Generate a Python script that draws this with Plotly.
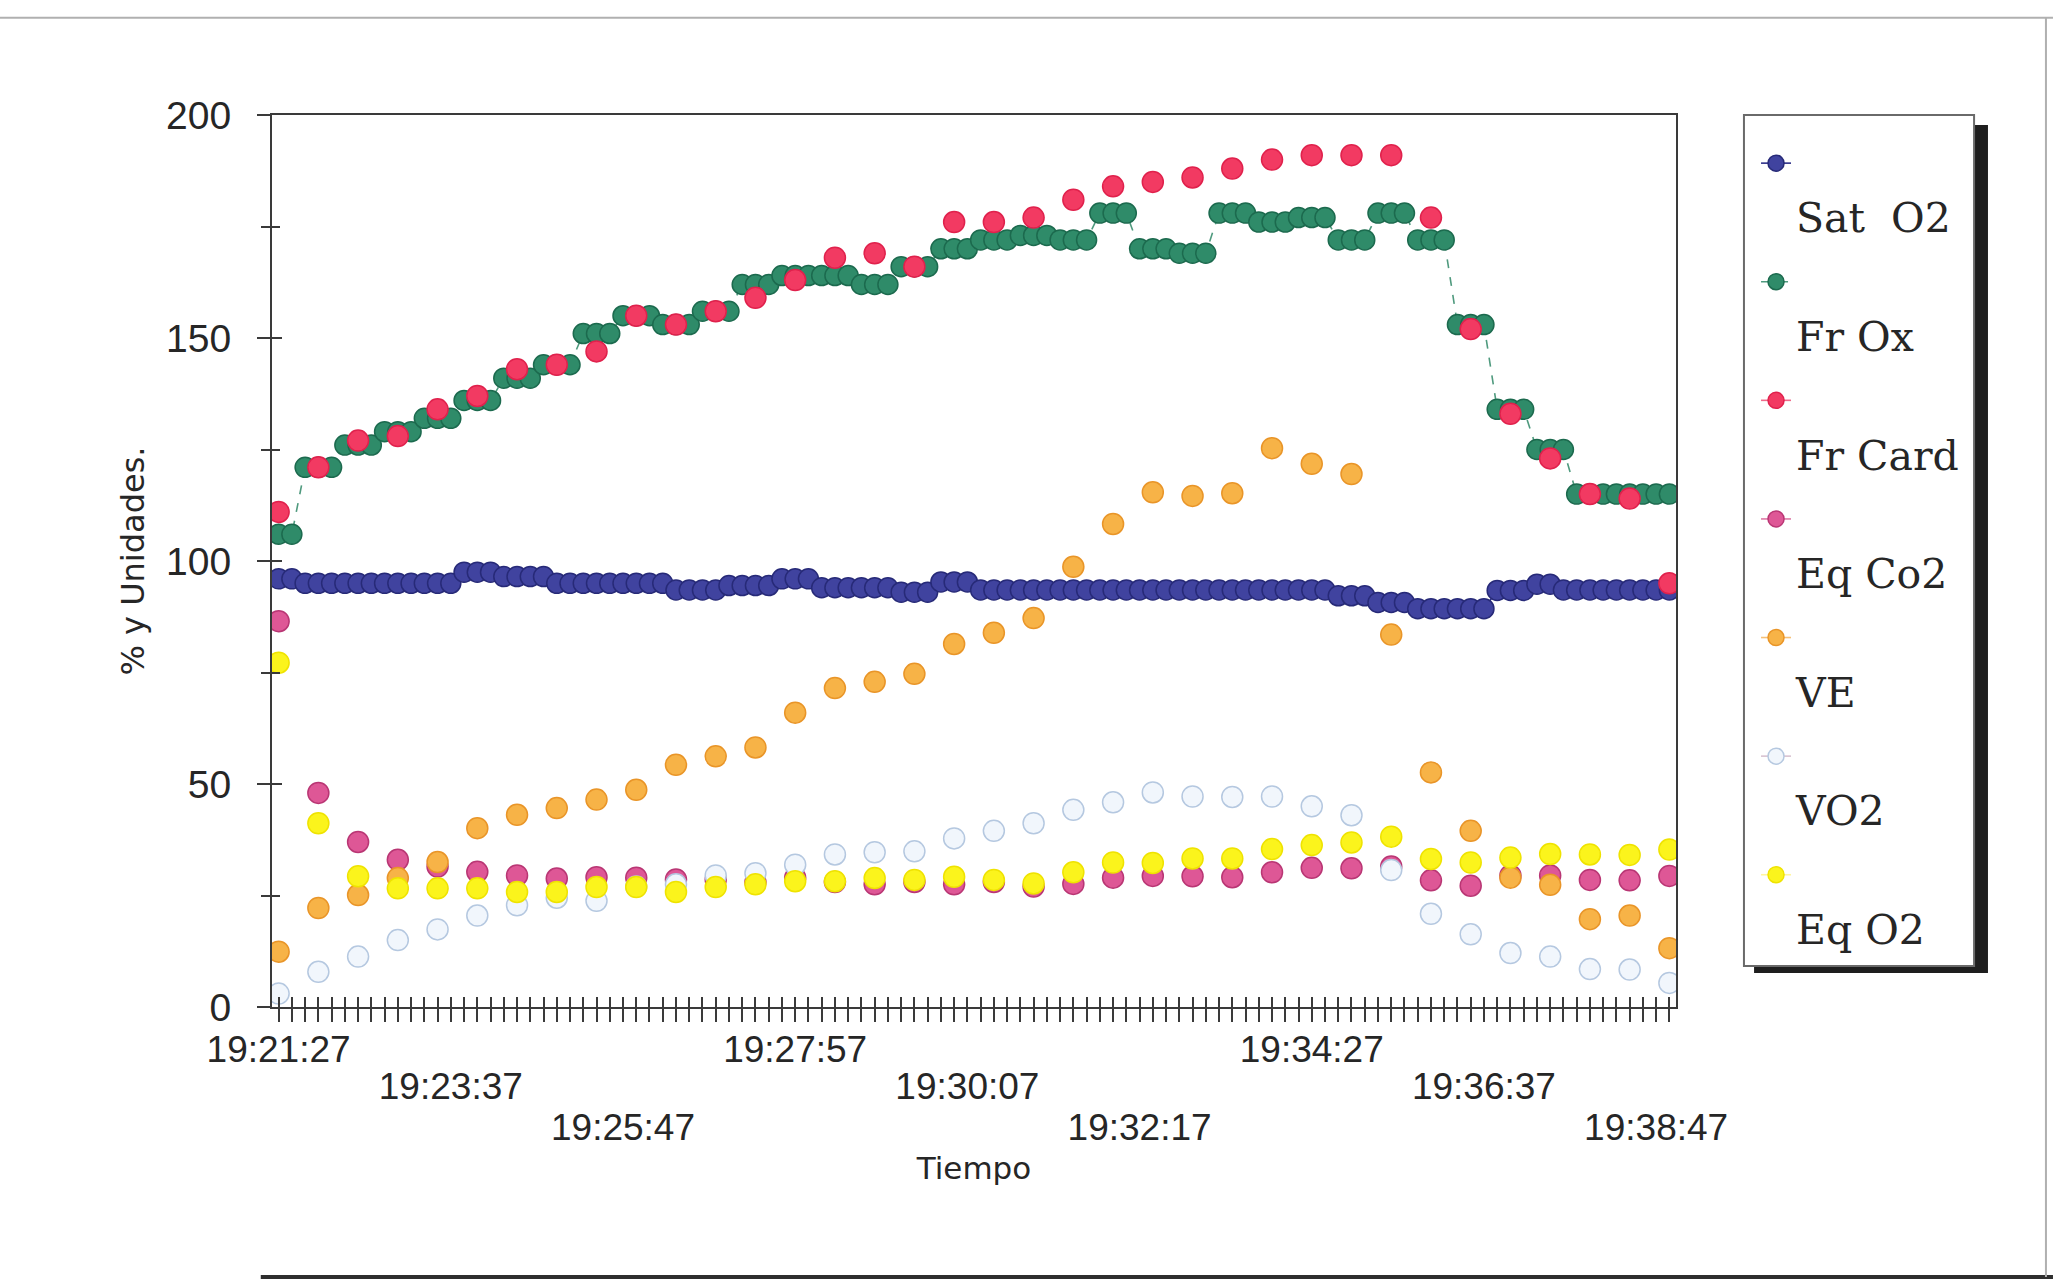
import plotly.graph_objects as go

# ---- time base (seconds after 19:21:27) ----
FAST_STEP = 10          # oximeter samples
SLOW_EVERY = 3          # gas analyser: one value every third oximeter sample (30 s)

tick_seconds = [0, 130, 260, 390, 520, 650, 780, 910, 1040]
tick_labels = ["19:21:27", "19:23:37", "19:25:47", "19:27:57", "19:30:07",
               "19:32:17", "19:34:27", "19:36:37", "19:38:47"]

# ---- oximeter series (every 10 s) ----
sat_o2 = [96, 96,
          95, 95, 95, 95, 95, 95, 95, 95, 95, 95, 95, 95,
          97.5, 97.5, 97.5,
          96.5, 96.5, 96.5, 96.5,
          95, 95, 95, 95, 95, 95, 95, 95, 95,
          93.5, 93.5, 93.5, 93.5,
          94.5, 94.5, 94.5, 94.5,
          96, 96, 96,
          94, 94, 94, 94, 94, 94,
          93, 93, 93,
          95.3, 95.3, 95.3,
          93.5, 93.5, 93.5, 93.5, 93.5, 93.5, 93.5, 93.5, 93.5,
          93.5, 93.5, 93.5, 93.5, 93.5, 93.5, 93.5, 93.5, 93.5,
          93.5, 93.5, 93.5, 93.5, 93.5, 93.5, 93.5, 93.5, 93.5,
          92.2, 92.2, 92.2,
          90.7, 90.7, 90.7,
          89.3, 89.3, 89.3, 89.3, 89.3, 89.3,
          93.4, 93.4, 93.4,
          94.8, 94.8,
          93.5, 93.5, 93.5, 93.5, 93.5, 93.5, 93.5, 93.5, 93.5]

fr_ox = [106, 106,
         121, 121, 121, 126, 126, 126, 129, 129, 129, 132, 132, 132,
         136, 136, 136, 141, 141, 141, 144, 144, 144, 151, 151, 151,
         155, 155, 155, 153, 153, 153, 156, 156, 156, 162, 162, 162,
         164, 164, 164, 164, 164, 164, 162, 162, 162, 166, 166, 166,
         170, 170, 170, 172, 172, 172, 173, 173, 173, 172, 172, 172,
         178, 178, 178, 170, 170, 170, 169, 169, 169, 178, 178, 178,
         176, 176, 176, 177, 177, 177, 172, 172, 172, 178, 178, 178,
         172, 172, 172, 153, 153, 153, 134, 134, 134, 125, 125, 125,
         115, 115, 115, 115, 115, 115,
         115, 115]

# ---- cardiac monitor / gas analyser series (every 30 s) ----
fr_card = [111, 121, 127, 128, 134, 137, 143, 144, 147, 155, 153, 156,
           159, 163, 168, 169, 166, 176, 176, 177, 181, 184, 185, 186,
           188, 190, 191, 191, 191, 177, 152, 133, 123, 115, 114, 95]
eq_co2 = [86.5, 48, 37, 33, 31.5, 30.3, 29.5, 28.8, 29.1, 29, 28.6, 28.6,
          28, 29, 28, 27.5, 28, 27.5, 28, 27, 27.6, 29, 29.4, 29.3,
          29.1, 30.2, 31.2, 31.1, 31.5, 28.4, 27.2, 29.5, 29.5, 28.5, 28.4, 29.4]
ve = [12.4, 22.2, 25.1, 28.9, 32.5, 40.1, 43.1, 44.6, 46.5, 48.7, 54.3, 56.2,
      58.2, 66, 71.5, 72.9, 74.7, 81.4, 83.9, 87.2, 98.7, 108.3, 115.4, 114.6,
      115.2, 125.3, 121.8, 119.5, 83.5, 52.6, 39.5, 29, 27.4, 19.7, 20.5, 13.2]
vo2 = [3, 7.9, 11.3, 15, 17.4, 20.5, 22.8, 24.5, 23.8, 27, 27.5, 29.5,
       30, 31.9, 34.2, 34.7, 34.9, 37.8, 39.5, 41.2, 44.2, 45.9, 48.1, 47.2,
       47.1, 47.2, 45, 43, 30.7, 20.9, 16.3, 12.1, 11.3, 8.5, 8.4, 5.4]
eq_o2 = [77.2, 41.2, 29.3, 26.6, 26.6, 26.6, 25.8, 25.8, 26.9, 26.9, 25.8, 26.9,
         27.5, 28.2, 28.2, 28.9, 28.5, 29.2, 28.5, 27.7, 30.2, 32.4, 32.3, 33.3,
         33.3, 35.4, 36.3, 36.9, 38.2, 33.2, 32.4, 33.5, 34.3, 34.2, 34.1, 35.3]

# shared 10-second category grid; slow series leave the in-between cells empty
x_grid = [i * FAST_STEP for i in range(len(sat_o2))]


def on_grid(values):
    return [values[i // SLOW_EVERY] if i % SLOW_EVERY == 0 else None
            for i in range(len(x_grid))]


AX = "#3a3a3a"
TXT = "#262626"
X_RANGE = [-5, 1055]

# The three time-label rows are three overlaid x axes (x, x2, x3) with the same
# range; the second y axis adds the inner half of the crossing tick marks.
series = [
    # name, values, fill, outline, line colour, size, dash, dense, xaxis, yaxis
    ("Sat\u00a0 O2", sat_o2, "#40439f", "#272a78", "#2d3088", 20, "solid", True, "x", "y"),
    ("Fr Ox", fr_ox, "#2f8b69", "#1c6a4e", "#4f9a7e", 20, "dash", True, "x", "y"),
    ("Fr Card", fr_card, "#f23a62", "#e0214c", "#f06a8a", 21, "solid", False, "x2", "y"),
    ("Eq Co2", eq_co2, "#de5796", "#b93674", "#dd7aa6", 21, "solid", False, "x3", "y2"),
    ("VE", ve, "#f7b347", "#e99528", "#f5c078", 21, "solid", False, "x3", "y2"),
    ("VO2", vo2, "#f1f6fc", "#b5c8e0", "#d8c2d0", 21, "solid", False, "x3", "y2"),
    ("Eq O2", eq_o2, "#fbf41c", "#efe300", "#fff6a0", 21, "solid", False, "x3", "y2"),
]

fig = go.Figure()
for name, vals, fill, outline, lcol, size, dash, dense, xa, ya in series:
    fig.add_trace(go.Scatter(
        x=x_grid,
        y=vals if dense else on_grid(vals),
        xaxis=xa, yaxis=ya,
        name="<br>" + name,
        legendgroup=name,
        mode="lines+markers",
        connectgaps=False,
        line=dict(color=lcol, width=1.6, dash=dash),
        marker=dict(symbol="circle", size=size, color=fill,
                    line=dict(color=outline, width=1.5)),
    ))

tick_font = dict(family="Liberation Sans", size=37, color=TXT)
minor_out = dict(tick0=0, dtick=FAST_STEP, ticks="outside", ticklen=13,
                 tickwidth=1.5, tickcolor=AX, showgrid=False)
minor_in = dict(tick0=0, dtick=FAST_STEP, ticks="inside", ticklen=10,
                tickwidth=1.5, tickcolor=AX, showgrid=False)

# page frame lines of the printed sheet and legend box with drop shadow
shapes = [
    dict(type="line", xref="paper", yref="paper", x0=-0.194, x1=1.2685,
         y0=1.109, y1=1.109, line=dict(color="#b0b0b0", width=2)),
    dict(type="line", xref="paper", yref="paper", x0=-0.008, x1=1.2685,
         y0=-0.3027, y1=-0.3027, line=dict(color="#2e2e2e", width=4)),
    dict(type="line", xref="paper", yref="paper", x0=1.2635, x1=1.2635,
         y0=-0.3027, y1=1.109, line=dict(color="#b0b0b0", width=2)),
    dict(type="rect", xref="paper", yref="paper", x0=1.0556, x1=1.2222,
         y0=0.0381, y1=0.9888, fillcolor="#1e1e1e", line=dict(width=0)),
    dict(type="rect", xref="paper", yref="paper", x0=1.0484, x1=1.2123,
         y0=0.046, y1=1.0, fillcolor="white", line=dict(color="#6a6a6a", width=2)),
]

fig.update_layout(
    width=2053, height=1287,
    margin=dict(l=272, r=377, t=115, b=280),
    paper_bgcolor="white", plot_bgcolor="white",
    shapes=shapes,
    showlegend=True,
    legend=dict(x=1.057, y=0.9832, xanchor="left", yanchor="top",
                bgcolor="rgba(0,0,0,0)", borderwidth=0, valign="top",
                tracegroupgap=9, itemsizing="trace",
                font=dict(family="DejaVu Serif", size=41, color=TXT)),
    xaxis=dict(range=X_RANGE, showgrid=False, zeroline=False,
               showline=True, linecolor=AX, linewidth=2, mirror=True,
               tickmode="array", tickvals=tick_seconds[0::3],
               ticktext=tick_labels[0::3], ticks="outside", ticklen=13,
               tickwidth=1.5, tickcolor=AX, minor=minor_out,
               tickfont=tick_font, ticklabelstandoff=-4),
    xaxis2=dict(overlaying="x", side="bottom", range=X_RANGE, showgrid=False,
                zeroline=False, showline=False, tickmode="array",
                tickvals=tick_seconds[1::3], ticktext=tick_labels[1::3],
                ticks="inside", ticklen=10, tickwidth=1.5, tickcolor=AX,
                minor=minor_in, tickfont=tick_font, ticklabelstandoff=54),
    xaxis3=dict(overlaying="x", side="bottom", range=X_RANGE, showgrid=False,
                zeroline=False, showline=False, tickmode="array",
                tickvals=tick_seconds[2::3], ticktext=tick_labels[2::3],
                ticks="", tickfont=tick_font, ticklabelstandoff=95,
                title=dict(text="Tiempo", standoff=10,
                           font=dict(family="DejaVu Sans", size=31, color=TXT))),
    yaxis=dict(range=[0, 200], showgrid=False, zeroline=False,
               showline=True, linecolor=AX, linewidth=2, mirror=True,
               tickmode="array", tickvals=[0, 50, 100, 150, 200],
               ticks="outside", ticklen=13, tickwidth=1.5, tickcolor=AX,
               minor=dict(tick0=0, dtick=25, ticks="outside", ticklen=9,
                          tickwidth=1.5, tickcolor=AX, showgrid=False),
               tickfont=dict(family="Liberation Sans", size=39, color=TXT),
               ticklabelstandoff=18,
               title=dict(text="% y Unidades.", standoff=12,
                          font=dict(family="DejaVu Sans", size=32, color=TXT))),
    yaxis2=dict(overlaying="y", range=[0, 200], showgrid=False, zeroline=False,
                showline=False, showticklabels=False, tickmode="array",
                tickvals=[0, 50, 100, 150, 200], ticks="inside", ticklen=10,
                tickwidth=1.5, tickcolor=AX,
                minor=dict(tick0=0, dtick=25, ticks="inside", ticklen=8,
                           tickwidth=1.5, tickcolor=AX, showgrid=False)),
)

fig.write_html("out.html")
